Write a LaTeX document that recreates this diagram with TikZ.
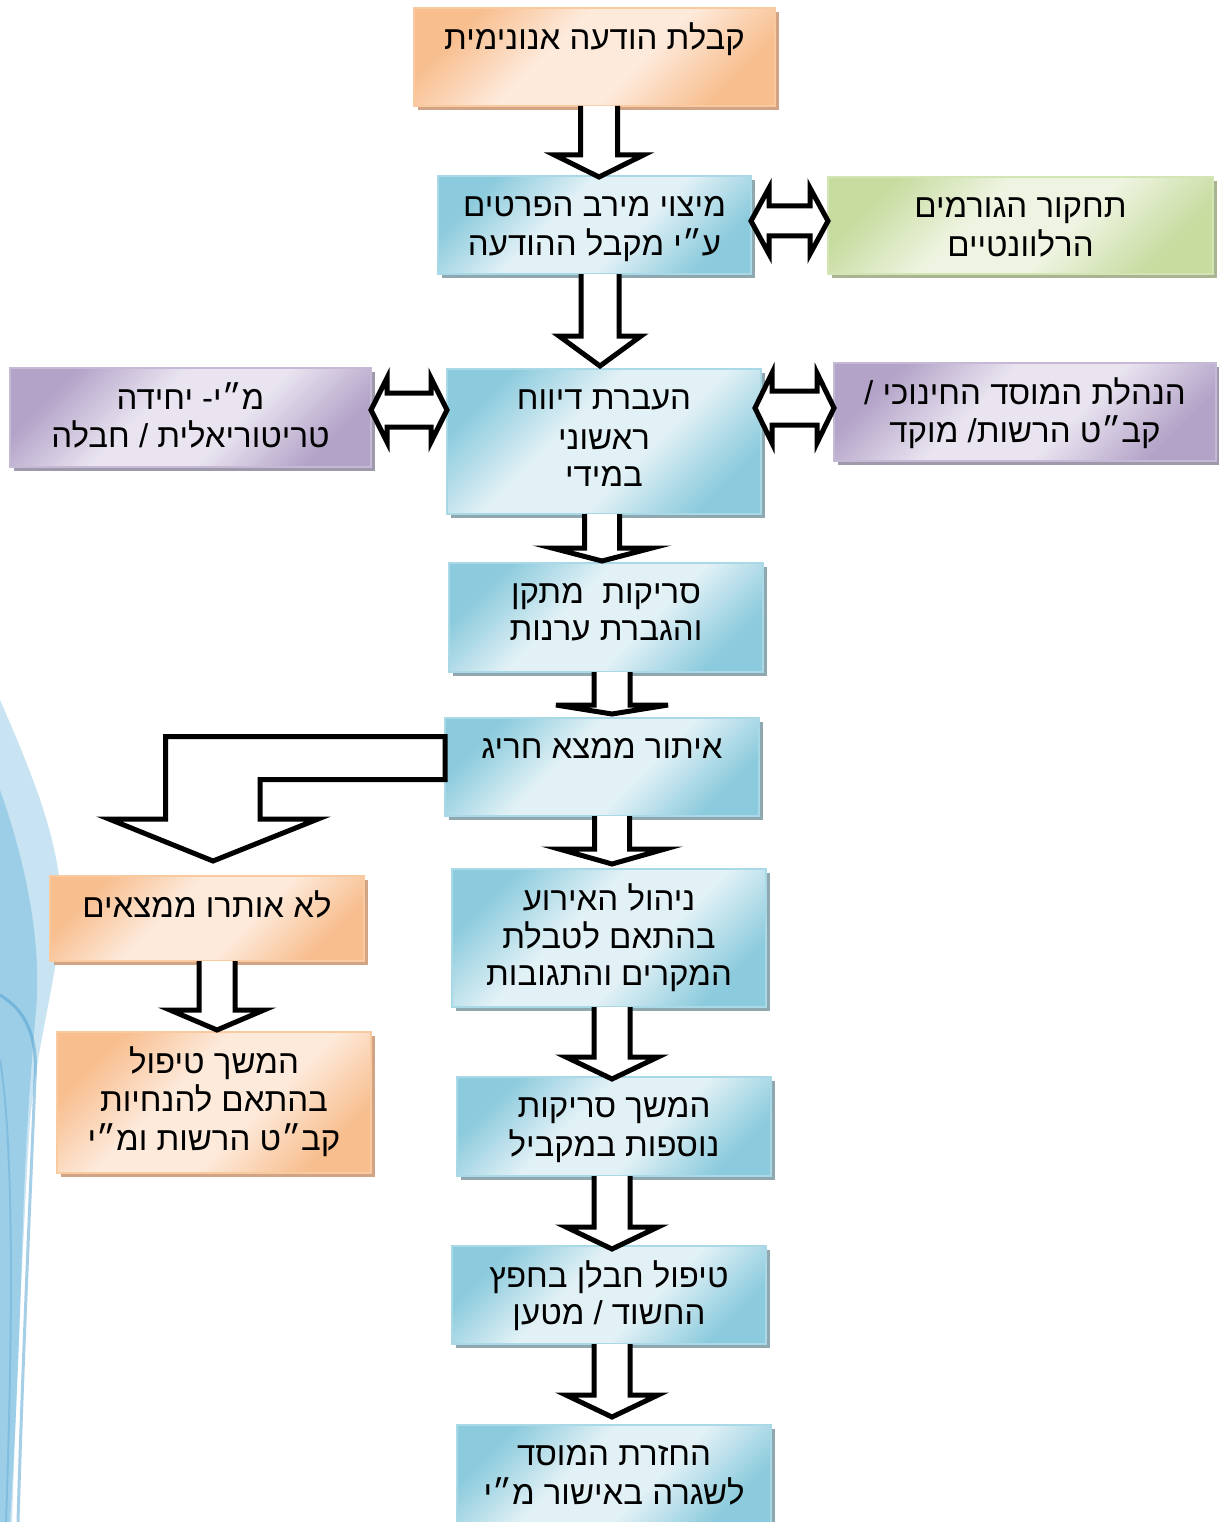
\documentclass[tikz,border=0pt]{standalone}
\usepackage{fontspec}
\newfontfamily\hebfont[Script=Hebrew]{Liberation Sans}
\TeXXeTstate=1
\usetikzlibrary{calc}
\definecolor{bluedark}{HTML}{8CCBDD}
\definecolor{bluelight}{HTML}{E2F1F6}
\definecolor{blueborder}{HTML}{A9D9E6}
\definecolor{blueshadow}{HTML}{8FA8B0}
\definecolor{orangedark}{HTML}{F8BE8E}
\definecolor{orangelight}{HTML}{FDEADB}
\definecolor{orangeborder}{HTML}{F9C9A0}
\definecolor{orangeshadow}{HTML}{D2A486}
\definecolor{greendark}{HTML}{C8DCA0}
\definecolor{greenlight}{HTML}{EEF4E1}
\definecolor{greenborder}{HTML}{D3E4B5}
\definecolor{greenshadow}{HTML}{A9B592}
\definecolor{purpledark}{HTML}{B3A3C8}
\definecolor{purplelight}{HTML}{E9E4F0}
\definecolor{purpleborder}{HTML}{C5B9D6}
\definecolor{purpleshadow}{HTML}{9F9AAB}
\definecolor{swlight}{HTML}{C8E3F1}
\definecolor{swmid}{HTML}{8FC8E6}
\definecolor{swdark}{HTML}{4D9FD0}
\pgfdeclarehorizontalshading{blueshade}{100bp}{color(0bp)=(bluedark); color(25bp)=(bluedark); color(42bp)=(bluelight); color(58bp)=(bluelight); color(75bp)=(bluedark); color(100bp)=(bluedark)}
\pgfdeclarehorizontalshading{orangeshade}{100bp}{color(0bp)=(orangedark); color(25bp)=(orangedark); color(42bp)=(orangelight); color(58bp)=(orangelight); color(75bp)=(orangedark); color(100bp)=(orangedark)}
\pgfdeclarehorizontalshading{greenshade}{100bp}{color(0bp)=(greendark); color(25bp)=(greendark); color(42bp)=(greenlight); color(58bp)=(greenlight); color(75bp)=(greendark); color(100bp)=(greendark)}
\pgfdeclarehorizontalshading{purpleshade}{100bp}{color(0bp)=(purpledark); color(25bp)=(purpledark); color(42bp)=(purplelight); color(58bp)=(purplelight); color(75bp)=(purpledark); color(100bp)=(purpledark)}
\newcommand\heb[1]{\strut\beginR #1\endR}
\newcommand\mkbox[7]{%
  \fill[#6shadow] ({#2+4},{#3+4}) rectangle ({#4+4},{#5+4});
  \node[flowbox, shading=#6shade, draw=#6border, minimum width={(#4-#2)*1pt}, minimum height={(#5-#3)*1pt}] (#1) at ({(#2+#4)/2},{(#3+#5)/2}) {};
  \node[boxtext] (#1t) at ({(#2+#4)/2},{#3+14}) {#7};
}
% vertical block arrow: #1 from node, #2 centre x, #3 tip y, #4 shaft half, #5 head half, #6 head length
\newcommand\varrow[6]{%
  \draw[barrow] let \p1=(#1.south) in
    ({#2-#4},\y1) -- ({#2-#4},{#3-#6}) -- ({#2-#5},{#3-#6}) -- (#2,#3)
    -- ({#2+#5},{#3-#6}) -- ({#2+#4},{#3-#6}) -- ({#2+#4},\y1);
}
% double block arrow: #1 left tip, #2 right tip, #3 centre y, #4 shaft half, #5 head half, #6 head length
\newcommand\harrow[6]{%
  \draw[barrow] let \p1=(#1), \p2=(#2) in
    (\x1,#3) -- (\x1+#6,{#3-#5}) -- (\x1+#6,{#3-#4}) -- (\x2-#6,{#3-#4}) -- (\x2-#6,{#3-#5})
    -- (\x2,#3) -- (\x2-#6,{#3+#5}) -- (\x2-#6,{#3+#4}) -- (\x1+#6,{#3+#4}) -- (\x1+#6,{#3+#5}) -- cycle;
}
\begin{document}
\begin{tikzpicture}[x=1pt,y=-1pt,
  flowbox/.style={rectangle, inner sep=0pt, outer sep=0pt, shade, shading angle=-45, line width=1.2pt},
  boxtext/.style={anchor=north, inner sep=0pt, align=center, text=black, font={\hebfont\fontsize{33}{37}\selectfont}},
  barrow/.style={draw=black, fill=white, line width=5pt, line join=miter, miter limit=10}]
\useasboundingbox (0,0) rectangle (1218,1522);
\fill[white] (0,0) rectangle (1218,1522);
% decorative swoosh at the left
\fill[swlight] (0,700) .. controls (35,780) and (68,860) .. (60,930) .. controls (54,990) and (38,1040) .. (30,1120) .. controls (22,1250) and (16,1400) .. (12,1522) -- (0,1522) -- cycle;
\fill[swmid, opacity=.75] (0,790) .. controls (25,860) and (42,940) .. (36,1010) .. controls (30,1080) and (25,1150) .. (22,1250) .. controls (18,1380) and (14,1460) .. (10,1522) -- (0,1522) -- cycle;
\draw[swdark, line width=3pt, opacity=.5] (0,995) .. controls (25,1010) and (38,1035) .. (35,1080) .. controls (30,1200) and (22,1380) .. (18,1522);
\draw[swdark, line width=2pt, opacity=.35] (0,1060) .. controls (15,1150) and (12,1350) .. (6,1522);
% boxes
\mkbox{b1}{414}{8}{775}{106}{orange}{\heb{קבלת הודעה אנונימית}}
\mkbox{b2}{438}{176}{751}{274}{blue}{\heb{מיצוי מירב הפרטים}\\\heb{ע״י מקבל ההודעה}}
\mkbox{b3}{828}{177}{1213}{274}{green}{\heb{תחקור הגורמים}\\\heb{הרלוונטיים}}
\mkbox{b5}{447}{369}{761}{514}{blue}{\heb{העברת דיווח}\\[3pt]\heb{ראשוני}\\\heb{במידי}}
\mkbox{b6}{10}{368}{371}{467}{purple}{\heb{מ״י- יחידה}\\\heb{טריטוריאלית / חבלה}}
\mkbox{b7}{834}{363}{1216}{461}{purple}{\heb{הנהלת המוסד החינוכי /}\\\heb{קב״ט הרשות/ מוקד}}
\mkbox{b9}{449}{563}{763}{672}{blue}{\heb{סריקות\ \ מתקן}\\\heb{והגברת ערנות}}
\mkbox{b10}{445}{718}{759}{816}{blue}{\heb{איתור ממצא חריג}}
\mkbox{b11}{50}{876}{364}{961}{orange}{\heb{לא אותרו ממצאים}}
\mkbox{b12}{452}{869}{766}{1007}{blue}{\heb{ניהול האירוע}\\\heb{בהתאם לטבלת}\\\heb{המקרים והתגובות}}
\mkbox{b13}{57}{1032}{371}{1173}{orange}{\heb{המשך טיפול}\\\heb{בהתאם להנחיות}\\\heb{קב״ט הרשות ומ״י}}
\mkbox{b14}{457}{1077}{771}{1176}{blue}{\heb{המשך סריקות}\\\heb{נוספות במקביל}}
\mkbox{b15}{452}{1246}{766}{1344}{blue}{\heb{טיפול חבלן בחפץ}\\\heb{החשוד / מטען}}
\mkbox{b16}{457}{1425}{771}{1524}{blue}{\heb{החזרת המוסד}\\\heb{לשגרה באישור מ״י}}
% vertical block arrows
\varrow{b1}{599}{177}{18.5}{44.5}{22}
\varrow{b2}{600}{366}{19}{41}{30}
\varrow{b5}{602}{561}{17.5}{50}{13}
\varrow{b9}{612}{714}{18}{56}{9}
\varrow{b10}{612}{864}{17.5}{53}{15}
\varrow{b12}{612}{1079}{18}{46}{22}
\varrow{b14}{612}{1249}{18}{46}{22}
\varrow{b15}{612}{1417}{18}{46}{22}
\varrow{b11}{217}{1030}{18}{47}{20}
% double block arrows
\harrow{b2.east}{b3.west}{221}{15}{33}{18}
\harrow{b6.east}{b5.west}{410}{17}{32}{16}
\harrow{[xshift=-6pt]b5.east}{b7.west}{408}{17}{35}{17}
% bent block arrow from b10 to b11
\draw[barrow] (b10.west |- 0,736.5) -- (165.5,736.5) -- (165.5,819) -- (109,819) -- (213,861)
  -- (318,819) -- (260,819) -- (260,779.5) -- (b10.west |- 0,779.5) -- cycle;
\end{tikzpicture}
\end{document}
